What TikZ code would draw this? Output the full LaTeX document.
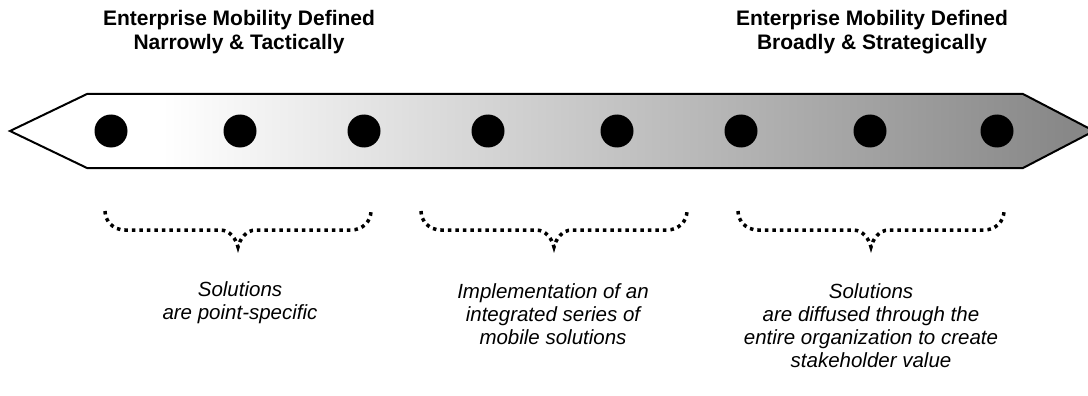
\documentclass[tikz,border=0pt]{standalone}
\usepackage{fontspec}
\setmainfont{Liberation Sans}
\definecolor{arrowgray}{gray}{0.53}
\pgfdeclarehorizontalshading{arrowsh}{100bp}{color(0bp)=(white); color(32bp)=(white); color(74bp)=(arrowgray); color(100bp)=(arrowgray)}
\tikzset{
  dot/.style={circle, fill=black, draw=none, minimum size=33pt, inner sep=0pt},
  titletext/.style={align=center, inner sep=0pt, font=\fontsize{21}{24}\selectfont\bfseries},
  desctext/.style={align=center, inner sep=0pt, font=\fontsize{20.5}{23}\selectfont\itshape},
  dotbrace/.style={line width=3.5pt, dash pattern=on 3.5pt off 4pt, line cap=butt},
  dbrace/.pic={
    \draw[dotbrace] (-133,-38) .. controls (-133,-28) and (-125,-19) .. (-113,-19)
      -- (-18,-19) .. controls (-8,-19) and (-2,-10) .. (0,-2)
      .. controls (2,-10) and (8,-19) .. (18,-19)
      -- (113,-19) .. controls (125,-19) and (133,-28) .. (133,-38);
  }
}
\begin{document}
\begin{tikzpicture}[x=1pt, y=-1pt]
\useasboundingbox (0,0) rectangle (1088,396);
% arrow band
\shade[shading=arrowsh] (10,131) -- (87,94) -- (1023,94) -- (1094,131) -- (1023,168) -- (87,168) -- cycle;
\draw[line width=2pt, line join=miter] (10,131) -- (87,94) -- (1023,94) -- (1094,131) -- (1023,168) -- (87,168) -- cycle;
% dots
\foreach \x [count=\i] in {111,240,364,488,617,741,870,997}
  \node[dot] (d\i) at (\x,131) {};
% titles
\node[titletext] (t1) at (239,32) {Enterprise Mobility Defined\\Narrowly \& Tactically};
\node[titletext] (t2) at (872,32) {Enterprise Mobility Defined\\Broadly \& Strategically};
% braces
\pic (b1) at (238,249) {dbrace};
\pic (b2) at (554,249) {dbrace};
\pic (b3) at (871,249) {dbrace};
% descriptions
\node[desctext] (s1) at (240,303) {Solutions\\are point-specific};
\node[desctext] (s2) at (553,314.5) {Implementation of an\\integrated series of\\mobile solutions};
\node[desctext] (s3) at (871,326) {Solutions\\are diffused through the\\entire organization to create\\stakeholder value};
\end{tikzpicture}
\end{document}
